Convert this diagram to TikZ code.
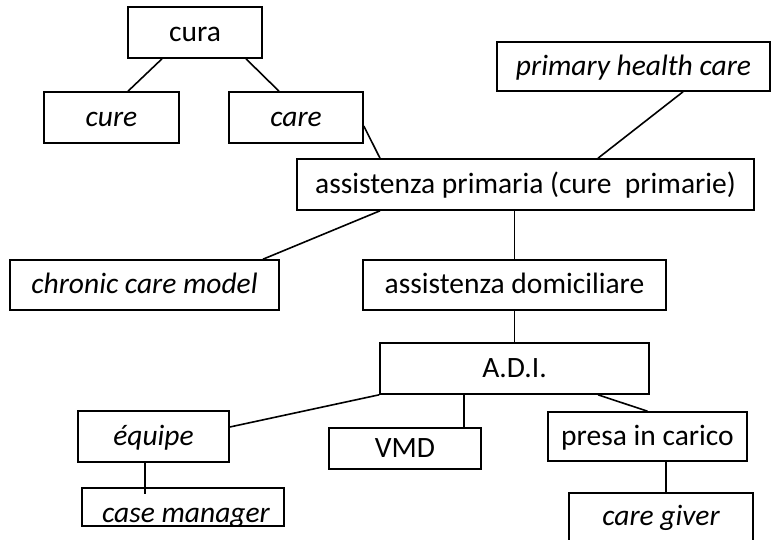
\documentclass[tikz,border=0pt]{standalone}
\usepackage{fontspec}
\setmainfont{Carlito}
\begin{document}
\begin{tikzpicture}[x=1pt, y=-1pt, line width=1.6pt,
   every node/.style={draw, rectangle, inner sep=0pt, minimum height=51,
     text height=23.5pt, text depth=6pt, font=\fontsize{29.5}{35}\selectfont}]
   \useasboundingbox (0,0) rectangle (771,539);
   \node (cura)    [minimum width=134]                    at (195,32.5)   {cura};
   \node (cure)    [minimum width=135]                    at (111.5,117.5) {\itshape cure};
   \node (care)    [minimum width=134]                    at (296,117.5)  {\itshape care};
   \node (phc)     [minimum width=273, minimum height=49] at (633.5,66.5) {\itshape primary health care};
   \node (assist)  [minimum width=457]                    at (525.5,184.5) {assistenza primaria (cure\ \ primarie)};
   \node (chronic) [minimum width=269, minimum height=50] at (144.5,285)  {\itshape chronic care model};
   \node (dom)     [minimum width=303, minimum height=50] at (514.5,285)  {assistenza domiciliare};
   \node (adi)     [minimum width=269]                    at (514.5,368.5) {A.D.I.};
   \node (equipe)  [minimum width=151]                    at (153.5,436.5) {\itshape équipe};
   \node (vmd)     [minimum width=152, minimum height=41] at (405,448.5)  {VMD};
   \node (presa)   [minimum width=199, minimum height=49] at (647.5,436.5) {presa in carico};
   \node (cm)      [minimum width=202, minimum height=38] at (183,507)    {};
   \node (cg)      [minimum width=184, minimum height=48] at (661,517)    {\itshape care giver};
   \begin{scope}
      \clip (cm.south west) rectangle (cm.north east);
      \node (cmtext) [draw=none, anchor=base] at (186,522) {\itshape case manager};
   \end{scope}
   \draw ([xshift=-33pt]cura.south) -- ([xshift=16.5pt]cure.north);
   \draw ([xshift=51pt]cura.south) -- ([xshift=-17pt]care.north);
   \draw ([yshift=-8.5pt]care.east) -- ([xshift=-145.5pt]assist.north);
   \draw ([xshift=49.5pt]phc.south) -- ([xshift=72.5pt]assist.north);
   \draw ([xshift=-145.5pt]assist.south) -- ([xshift=118.5pt]chronic.north);
   \draw (dom.north |- assist.south) -- (dom.north);
   \draw (dom.south) -- (adi.north);
   \draw (adi.south west) -- ([yshift=9.5pt]equipe.east);
   \draw ([xshift=59pt]vmd.north |- adi.south) -- ([xshift=59pt]vmd.north);
   \draw ([xshift=83.5pt]adi.south) -- (presa.north);
   \draw ([xshift=-8.5pt]equipe.south) -- ([xshift=-38pt,yshift=-7pt]cm.north);
   \draw ([xshift=18.5pt]presa.south) -- ([xshift=5pt]cg.north);
\end{tikzpicture}
\end{document}
